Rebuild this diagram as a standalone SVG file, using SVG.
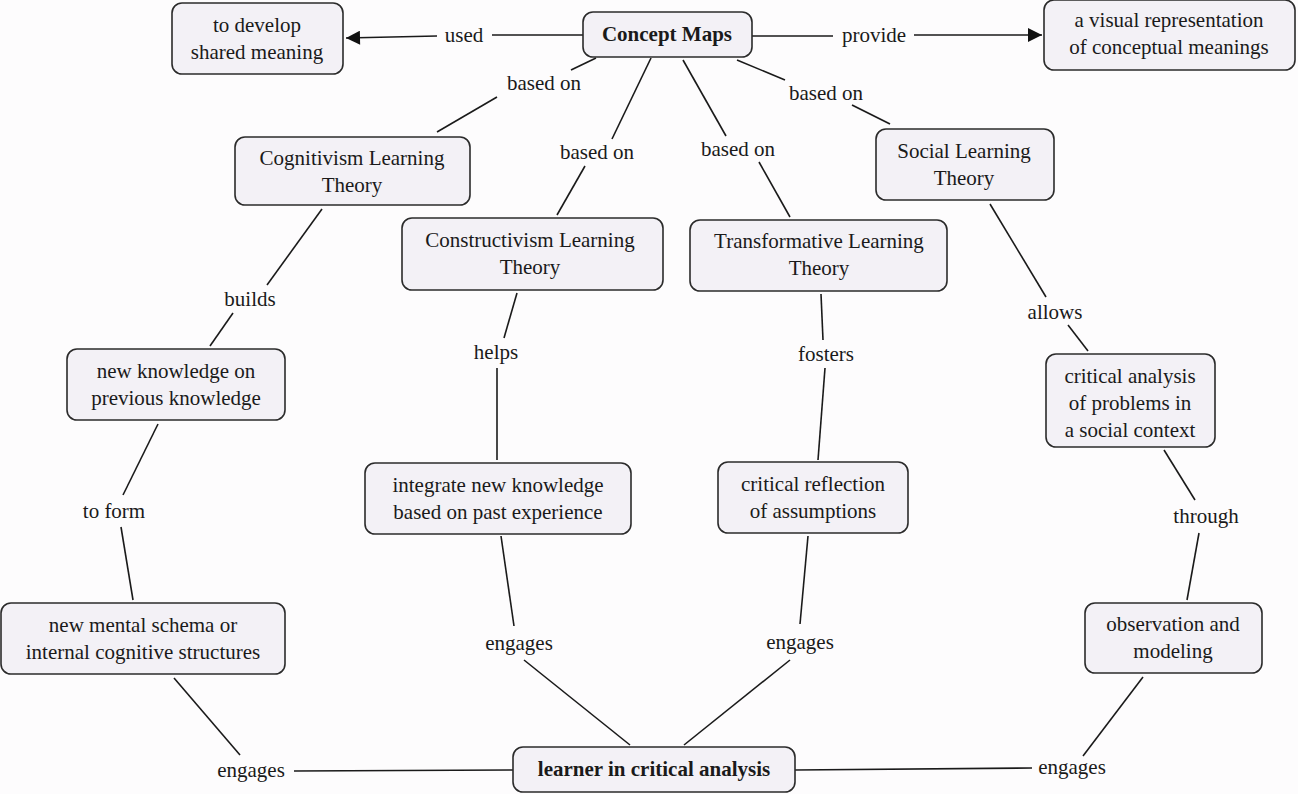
<svg xmlns="http://www.w3.org/2000/svg" width="1298" height="794" viewBox="0 0 1298 794">
<defs>
<marker id="arr2" viewBox="0 0 10 10" refX="10" refY="5" markerWidth="18" markerHeight="14" markerUnits="userSpaceOnUse" orient="auto"><path d="M0,0 L10,5 L0,10 z" fill="#111"/></marker>
</defs>
<rect width="1298" height="794" fill="#fdfcfd"/>
<g id="connectors" stroke="#1a1a1a" stroke-width="1.6">
<line x1="583" y1="35" x2="492" y2="35"/>
<line x1="437" y1="36" x2="346" y2="38" marker-end="url(#arr2)"/>
<line x1="752" y1="36" x2="833" y2="36"/>
<line x1="914" y1="35" x2="1042" y2="35" marker-end="url(#arr2)"/>
<line x1="596" y1="58" x2="571" y2="70"/>
<line x1="497" y1="97" x2="437" y2="132"/>
<line x1="651" y1="58" x2="612" y2="139"/>
<line x1="585" y1="166" x2="557" y2="215"/>
<line x1="683" y1="60" x2="726" y2="136"/>
<line x1="759" y1="162" x2="790" y2="217"/>
<line x1="737" y1="60" x2="785" y2="80"/>
<line x1="852" y1="105" x2="890" y2="124"/>
<line x1="322" y1="209" x2="267" y2="285"/>
<line x1="233" y1="313" x2="210" y2="346"/>
<line x1="517" y1="293" x2="504" y2="338"/>
<line x1="497" y1="368" x2="497" y2="460"/>
<line x1="821" y1="294" x2="823" y2="340"/>
<line x1="825" y1="368" x2="818" y2="460"/>
<line x1="990" y1="204" x2="1046" y2="297"/>
<line x1="1068" y1="325" x2="1088" y2="351"/>
<line x1="158" y1="424" x2="123" y2="495"/>
<line x1="121" y1="527" x2="133" y2="600"/>
<line x1="1164" y1="450" x2="1195" y2="500"/>
<line x1="1199" y1="533" x2="1187" y2="600"/>
<line x1="174" y1="678" x2="240" y2="755"/>
<line x1="294" y1="771" x2="513" y2="770"/>
<line x1="501" y1="536" x2="514" y2="626"/>
<line x1="524" y1="660" x2="630" y2="745"/>
<line x1="808" y1="536" x2="800" y2="624"/>
<line x1="790" y1="660" x2="684" y2="745"/>
<line x1="1143" y1="677" x2="1083" y2="756"/>
<line x1="795" y1="770" x2="1032" y2="768"/>
</g>
<g id="labels" fill="#1a1a1a" text-anchor="middle">
<text font-family="Liberation Serif" font-size="21" x="464" y="42">used</text>
<text font-family="Liberation Serif" font-size="21" x="874" y="42">provide</text>
<text font-family="Liberation Serif" font-size="21" x="544" y="90">based on</text>
<text font-family="Liberation Serif" font-size="21" x="597" y="159">based on</text>
<text font-family="Liberation Serif" font-size="21" x="738" y="156">based on</text>
<text font-family="Liberation Serif" font-size="21" x="826" y="100">based on</text>
<text font-family="Liberation Serif" font-size="21" x="250" y="306">builds</text>
<text font-family="Liberation Serif" font-size="21" x="496" y="359">helps</text>
<text font-family="Liberation Serif" font-size="21" x="826" y="361">fosters</text>
<text font-family="Liberation Serif" font-size="21" x="1055" y="319">allows</text>
<text font-family="Liberation Serif" font-size="21" x="114" y="518">to form</text>
<text font-family="Liberation Serif" font-size="21" x="1206" y="523">through</text>
<text font-family="Liberation Serif" font-size="21" x="251" y="777">engages</text>
<text font-family="Liberation Serif" font-size="21" x="519" y="650">engages</text>
<text font-family="Liberation Serif" font-size="21" x="800" y="649">engages</text>
<text font-family="Liberation Serif" font-size="21" x="1072" y="774">engages</text>
</g>
<g id="nodes" fill="#1a1a1a" text-anchor="middle">
<g id="n_shared"><rect fill="#f3f1f6" stroke="#2b2b2b" stroke-width="1.6" x="172" y="3" width="171" height="71" rx="10"/><text font-family="Liberation Serif" font-size="21" x="257" y="32">to develop</text><text font-family="Liberation Serif" font-size="21" x="257" y="59">shared meaning</text></g>
<g id="n_concept"><rect fill="#f3f1f6" stroke="#2b2b2b" stroke-width="1.6" x="583" y="12" width="169" height="45" rx="10"/><text font-family="Liberation Serif" font-size="21" font-weight="bold" x="667" y="41">Concept Maps</text></g>
<g id="n_visual"><rect fill="#f3f1f6" stroke="#2b2b2b" stroke-width="1.6" x="1044" y="0" width="251" height="70" rx="10"/><text font-family="Liberation Serif" font-size="21" x="1169" y="27">a visual representation</text><text font-family="Liberation Serif" font-size="21" x="1169" y="54">of conceptual meanings</text></g>
<g id="n_cog"><rect fill="#f3f1f6" stroke="#2b2b2b" stroke-width="1.6" x="235" y="137" width="235" height="68" rx="10"/><text font-family="Liberation Serif" font-size="21" x="352" y="165">Cognitivism Learning</text><text font-family="Liberation Serif" font-size="21" x="352" y="192">Theory</text></g>
<g id="n_social"><rect fill="#f3f1f6" stroke="#2b2b2b" stroke-width="1.6" x="876" y="129" width="178" height="71" rx="10"/><text font-family="Liberation Serif" font-size="21" x="964" y="158">Social Learning</text><text font-family="Liberation Serif" font-size="21" x="964" y="185">Theory</text></g>
<g id="n_constr"><rect fill="#f3f1f6" stroke="#2b2b2b" stroke-width="1.6" x="402" y="218" width="261" height="72" rx="10"/><text font-family="Liberation Serif" font-size="21" x="530" y="247">Constructivism Learning</text><text font-family="Liberation Serif" font-size="21" x="530" y="274">Theory</text></g>
<g id="n_transf"><rect fill="#f3f1f6" stroke="#2b2b2b" stroke-width="1.6" x="690" y="220" width="257" height="71" rx="10"/><text font-family="Liberation Serif" font-size="21" x="819" y="248">Transformative Learning</text><text font-family="Liberation Serif" font-size="21" x="819" y="275">Theory</text></g>
<g id="n_newknow"><rect fill="#f3f1f6" stroke="#2b2b2b" stroke-width="1.6" x="67" y="349" width="218" height="71" rx="10"/><text font-family="Liberation Serif" font-size="21" x="176" y="378">new knowledge on</text><text font-family="Liberation Serif" font-size="21" x="176" y="405">previous knowledge</text></g>
<g id="n_critsoc"><rect fill="#f3f1f6" stroke="#2b2b2b" stroke-width="1.6" x="1046" y="354" width="169" height="93" rx="10"/><text font-family="Liberation Serif" font-size="21" x="1130" y="383">critical analysis</text><text font-family="Liberation Serif" font-size="21" x="1130" y="410">of problems in</text><text font-family="Liberation Serif" font-size="21" x="1130" y="437">a social context</text></g>
<g id="n_integ"><rect fill="#f3f1f6" stroke="#2b2b2b" stroke-width="1.6" x="365" y="463" width="266" height="71" rx="10"/><text font-family="Liberation Serif" font-size="21" x="498" y="492">integrate new knowledge</text><text font-family="Liberation Serif" font-size="21" x="498" y="519">based on past experience</text></g>
<g id="n_critref"><rect fill="#f3f1f6" stroke="#2b2b2b" stroke-width="1.6" x="718" y="462" width="190" height="71" rx="10"/><text font-family="Liberation Serif" font-size="21" x="813" y="491">critical reflection</text><text font-family="Liberation Serif" font-size="21" x="813" y="518">of assumptions</text></g>
<g id="n_schema"><rect fill="#f3f1f6" stroke="#2b2b2b" stroke-width="1.6" x="1" y="603" width="284" height="71" rx="10"/><text font-family="Liberation Serif" font-size="21" x="143" y="632">new mental schema or</text><text font-family="Liberation Serif" font-size="21" x="143" y="659">internal cognitive structures</text></g>
<g id="n_obs"><rect fill="#f3f1f6" stroke="#2b2b2b" stroke-width="1.6" x="1085" y="603" width="177" height="70" rx="10"/><text font-family="Liberation Serif" font-size="21" x="1173" y="631">observation and</text><text font-family="Liberation Serif" font-size="21" x="1173" y="658">modeling</text></g>
<g id="n_learner"><rect fill="#f3f1f6" stroke="#2b2b2b" stroke-width="1.6" x="513" y="747" width="282" height="45" rx="10"/><text font-family="Liberation Serif" font-size="21" font-weight="bold" x="654" y="776">learner in critical analysis</text></g>
</g>
</svg>
